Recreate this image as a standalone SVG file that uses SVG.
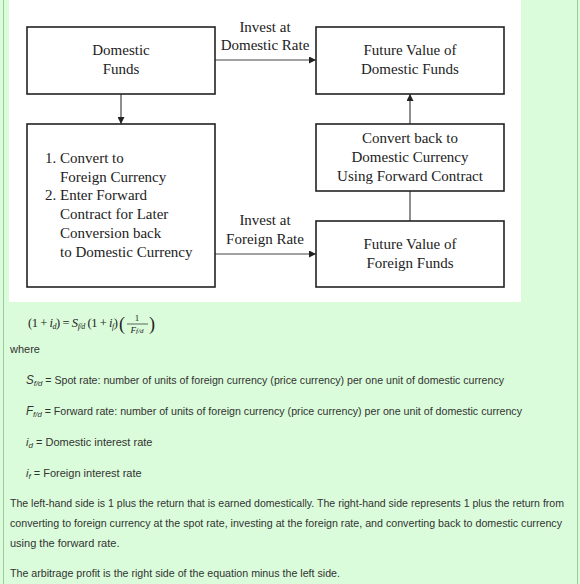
<svg xmlns="http://www.w3.org/2000/svg" width="580" height="584" viewBox="0 0 580 584">
<style>
.box{fill:#fff;stroke:#222;stroke-width:1.6}
.t{font-family:"Liberation Serif",serif;font-size:15px;fill:#222}
.c{stroke:#444;stroke-width:1.2;fill:none}
.p{font-family:"Liberation Sans",Arial,sans-serif;font-size:11px;fill:#333}
.ps{font-family:"Liberation Sans",Arial,sans-serif;font-size:10.2px;fill:#333}
.m{font-family:"Liberation Serif",serif;fill:#222}
</style>
<defs>
<marker id="ah" viewBox="0 0 10 10" refX="10" refY="5" markerWidth="7" markerHeight="7" markerUnits="userSpaceOnUse" orient="auto">
<path d="M0,0 L10,5 L0,10 z" fill="#222"/>
</marker>
</defs>
<rect x="0" y="0" width="580" height="584" fill="#dafcda"/>
<line x1="3.5" y1="0" x2="3.5" y2="584" stroke="#9dc99d" stroke-width="1"/>
<line x1="577.5" y1="0" x2="577.5" y2="584" stroke="#9dc99d" stroke-width="1"/>
<rect x="9" y="0" width="512" height="302" fill="#fff"/>

<g id="connectors">
<line class="c" x1="215" y1="60" x2="316" y2="60" marker-end="url(#ah)"/>
<line class="c" x1="121" y1="94" x2="121" y2="124" marker-end="url(#ah)"/>
<line class="c" x1="410" y1="124" x2="410" y2="94" marker-end="url(#ah)"/>
<line class="c" x1="410" y1="221" x2="410" y2="191"/>
<line class="c" x1="215" y1="254" x2="316" y2="254" marker-end="url(#ah)"/>
<text class="t" x="265" y="32" text-anchor="middle">Invest at</text>
<text class="t" x="265" y="50" text-anchor="middle">Domestic Rate</text>
<text class="t" x="265" y="225" text-anchor="middle">Invest at</text>
<text class="t" x="265" y="244" text-anchor="middle">Foreign Rate</text>
</g>

<g id="domestic-funds">
<rect class="box" x="27" y="27" width="188" height="67"/>
<text class="t" x="121" y="55" text-anchor="middle">Domestic</text>
<text class="t" x="121" y="74" text-anchor="middle">Funds</text>
</g>

<g id="fv-domestic">
<rect class="box" x="316" y="27" width="188" height="67"/>
<text class="t" x="410" y="55" text-anchor="middle">Future Value of</text>
<text class="t" x="410" y="74" text-anchor="middle">Domestic Funds</text>
</g>

<g id="convert">
<rect class="box" x="27" y="124" width="188" height="163"/>
<text class="t" x="45" y="163">1. Convert to</text>
<text class="t" x="60" y="182">Foreign Currency</text>
<text class="t" x="45" y="200">2. Enter Forward</text>
<text class="t" x="60" y="219">Contract for Later</text>
<text class="t" x="60" y="238">Conversion back</text>
<text class="t" x="60" y="257">to Domestic Currency</text>
</g>

<g id="convert-back">
<rect class="box" x="316" y="124" width="188" height="67"/>
<text class="t" x="410" y="143" text-anchor="middle">Convert back to</text>
<text class="t" x="410" y="162" text-anchor="middle">Domestic Currency</text>
<text class="t" x="410" y="181" text-anchor="middle">Using Forward Contract</text>
</g>

<g id="fv-foreign">
<rect class="box" x="316" y="221" width="188" height="66"/>
<text class="t" x="410" y="249" text-anchor="middle">Future Value of</text>
<text class="t" x="410" y="268" text-anchor="middle">Foreign Funds</text>
</g>

<g id="equation">
<text class="m" x="28" y="327" font-size="12.5" textLength="90" lengthAdjust="spacing">(1 + <tspan font-style="italic">i</tspan><tspan font-style="italic" font-size="8" dy="2">d</tspan><tspan dy="-2">) = </tspan><tspan font-style="italic">S</tspan><tspan font-style="italic" font-size="8" dy="2">f/d</tspan><tspan dy="-2"> (1 + </tspan><tspan font-style="italic">i</tspan><tspan font-style="italic" font-size="8" dy="2">f</tspan><tspan dy="-2">)</tspan></text>
<text class="m" x="119" y="330" font-size="18">(</text>
<text class="m" x="137" y="321" font-size="9" text-anchor="middle">1</text>
<line x1="127" y1="324" x2="148" y2="324" stroke="#222" stroke-width="0.7"/>
<text class="m" x="137" y="333" font-size="9" font-style="italic" text-anchor="middle">F<tspan font-size="7">f/d</tspan></text>
<text class="m" x="149" y="330" font-size="18">)</text>
</g>

<g id="text">
<text class="p" x="10" y="353">where</text>
<text class="p" x="26" y="384" textLength="478" lengthAdjust="spacingAndGlyphs"><tspan font-style="italic" font-size="12">S</tspan><tspan font-style="italic" font-size="8" dy="2">f/d</tspan><tspan dy="-2"> = Spot rate: number of units of foreign currency (price currency) per one unit of domestic currency</tspan></text>
<text class="p" x="26" y="415" textLength="496" lengthAdjust="spacingAndGlyphs"><tspan font-style="italic" font-size="12">F</tspan><tspan font-style="italic" font-size="8" dy="2">f/d</tspan><tspan dy="-2"> = Forward rate: number of units of foreign currency (price currency) per one unit of domestic currency</tspan></text>
<text class="p" x="26" y="446"><tspan font-style="italic">i</tspan><tspan font-style="italic" font-size="8" dy="2">d</tspan><tspan dy="-2"> = Domestic interest rate</tspan></text>
<text class="p" x="26" y="477"><tspan font-style="italic">i</tspan><tspan font-style="italic" font-size="8" dy="2">f</tspan><tspan dy="-2"> = Foreign interest rate</tspan></text>
<text class="ps" x="10" y="507" textLength="554" lengthAdjust="spacingAndGlyphs">The left-hand side is 1 plus the return that is earned domestically. The right-hand side represents 1 plus the return from</text>
<text class="ps" x="10" y="527" textLength="552" lengthAdjust="spacingAndGlyphs">converting to foreign currency at the spot rate, investing at the foreign rate, and converting back to domestic currency</text>
<text class="p" x="10" y="547">using the forward rate.</text>
<text class="p" x="10" y="577" textLength="330" lengthAdjust="spacingAndGlyphs">The arbitrage profit is the right side of the equation minus the left side.</text>
</g>
</svg>
